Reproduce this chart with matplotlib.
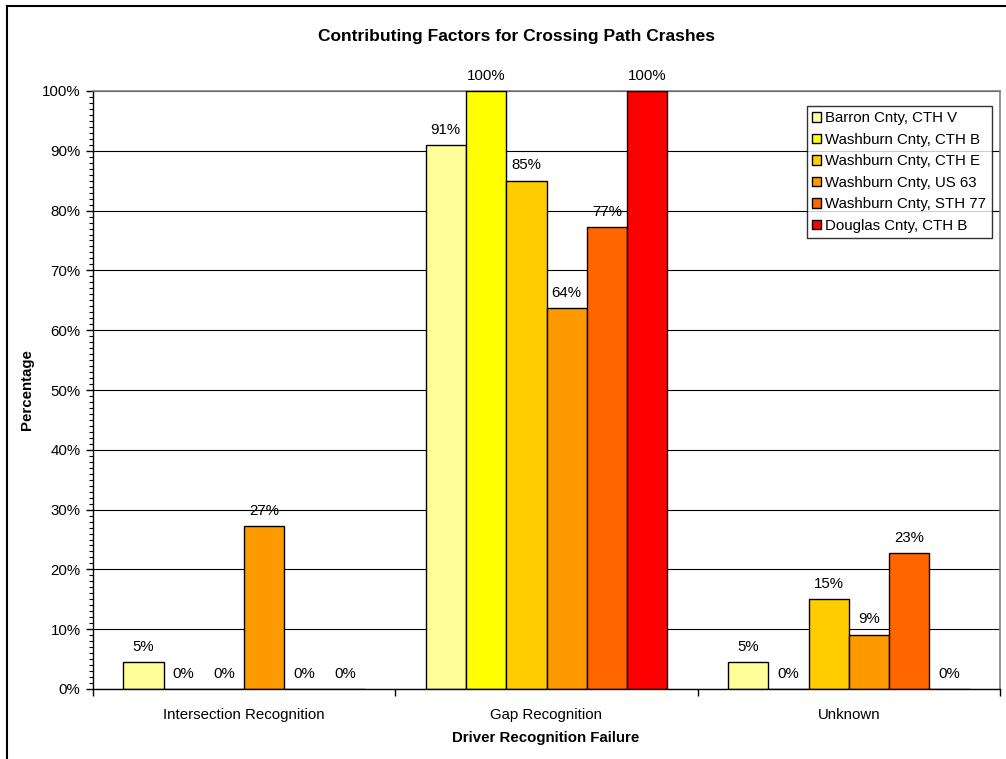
import matplotlib
matplotlib.use("Agg")
import matplotlib.pyplot as plt
import numpy as np
from matplotlib.lines import Line2D
from matplotlib.ticker import MultipleLocator, PercentFormatter

categories = ["Intersection Recognition", "Gap Recognition", "Unknown"]
series_names = ["Barron Cnty, CTH V", "Washburn Cnty, CTH B", "Washburn Cnty, CTH E",
                "Washburn Cnty, US 63", "Washburn Cnty, STH 77", "Douglas Cnty, CTH B"]
barron_v = [4.55, 90.91, 4.55]
washburn_b = [0.0, 100.0, 0.0]
washburn_e = [0.0, 85.0, 15.0]
washburn_us63 = [27.27, 63.64, 9.09]
washburn_sth77 = [0.0, 77.27, 22.73]
douglas_b = [0.0, 100.0, 0.0]
series_values = [barron_v, washburn_b, washburn_e, washburn_us63, washburn_sth77, douglas_b]
colors = ["#FFFF99", "#FFFF00", "#FFCC00", "#FF9900", "#FF6600", "#FF0000"]

plt.rcParams['font.family'] = ['Liberation Sans', 'DejaVu Sans']
FS = 10.8

W, H = 1006, 759
fig = plt.figure(figsize=(W / 100, H / 100), dpi=100)
# outer chart border (left and top edges visible; the rest is cropped)
fig.add_artist(Line2D([7 / W, 7 / W], [0, 1 - 6 / H], transform=fig.transFigure,
                      color="black", linewidth=1.5))
fig.add_artist(Line2D([7 / W, 1], [1 - 6 / H, 1 - 6 / H], transform=fig.transFigure,
                      color="black", linewidth=1.5))

ax = fig.add_axes([93 / W, 70 / H, (1000 - 93) / W, (689 - 91) / H])
n = len(series_names)
bw = 0.8 / n
x = np.arange(len(categories))
for i, (name, vals, c) in enumerate(zip(series_names, series_values, colors)):
    pos = x - 0.4 + bw * (i + 0.5)
    ax.bar(pos, vals, width=bw, color=c, edgecolor="black", linewidth=1.0, label=name, zorder=3)
    for p, v in zip(pos, vals):
        ax.annotate(f"{v:.0f}%", (p, v), xytext=(0, 11), textcoords="offset points",
                    ha="center", va="center", fontsize=FS, zorder=4)

ax.set_xlim(-0.5, len(categories) - 0.5)
ax.set_ylim(0, 100)
ax.yaxis.set_major_locator(MultipleLocator(10))
ax.yaxis.set_minor_locator(MultipleLocator(1))
ax.yaxis.set_major_formatter(PercentFormatter(decimals=0))
ax.set_xticks(x)
ax.set_xticklabels(categories)
ax.set_xticks(np.arange(-0.5, len(categories)), minor=True)
ax.tick_params(axis="x", which="major", length=0, pad=14, labelsize=FS)
ax.tick_params(axis="x", which="minor", length=5, width=1, direction="out")
ax.tick_params(axis="y", which="major", length=5, width=1, labelsize=FS, pad=4)
ax.tick_params(axis="y", which="minor", length=3, width=0.8)
ax.grid(axis="y", which="major", color="black", linewidth=0.8, zorder=0)

for s in ["top", "right"]:
    ax.spines[s].set_color("#808080")
    ax.spines[s].set_linewidth(1.2)
for s in ["left", "bottom"]:
    ax.spines[s].set_color("black")
    ax.spines[s].set_linewidth(1.0)
ax.spines["bottom"].set_zorder(5)

fig.text(516 / W, 1 - 37 / H, "Contributing Factors for Crossing Path Crashes",
         ha="center", va="center", fontsize=12.5, fontweight="bold")
fig.text(546 / W, 1 - 738 / H, "Driver Recognition Failure",
         ha="center", va="center", fontsize=FS, fontweight="bold")
fig.text(27 / W, 1 - 390 / H, "Percentage", ha="center", va="center",
         rotation=90, fontsize=FS, fontweight="bold")

leg = ax.legend(loc="upper left", bbox_to_anchor=(806.7 / W, 1 - 106 / H),
                bbox_transform=fig.transFigure, frameon=True, fancybox=False,
                edgecolor="black", fontsize=FS, handlelength=0.6, handleheight=0.6,
                handletextpad=0.3, labelspacing=0.5, borderpad=0.35, borderaxespad=0)
leg.get_frame().set_linewidth(1.0)
leg.set_zorder(6)

fig.savefig("out.png", dpi=100)
